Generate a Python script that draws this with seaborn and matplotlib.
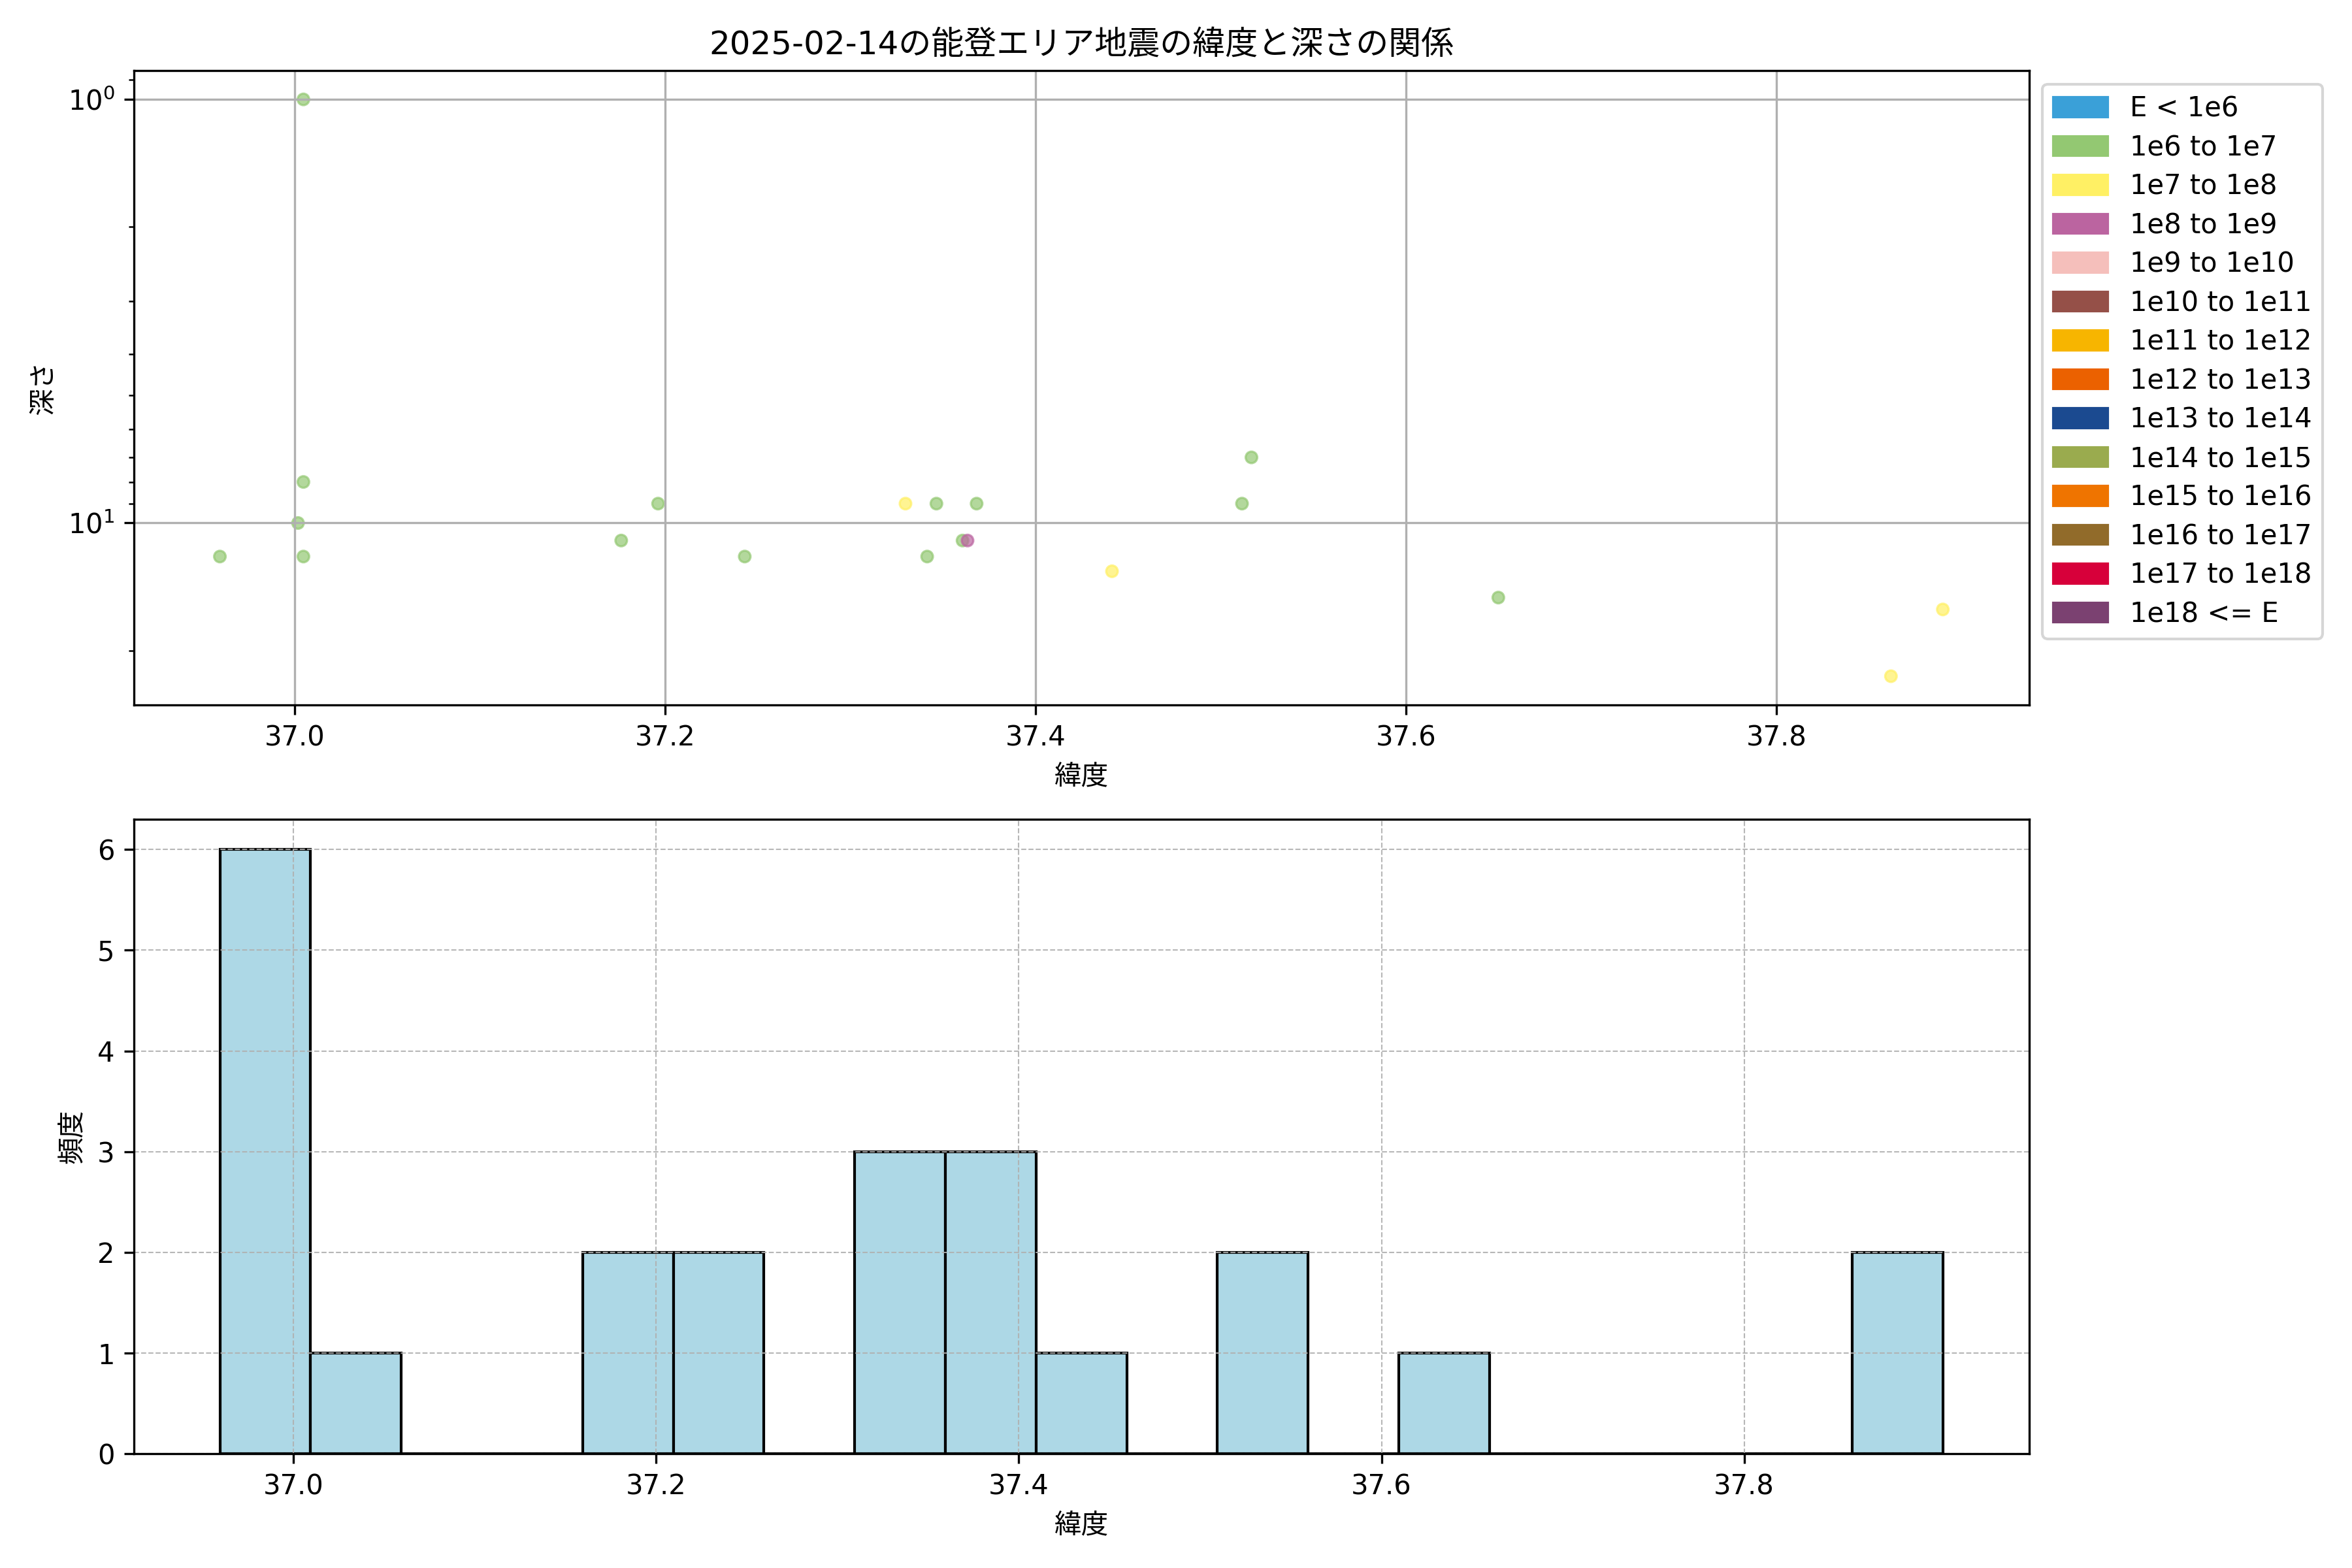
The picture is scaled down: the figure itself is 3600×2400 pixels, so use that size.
import numpy as np
import pandas as pd
import matplotlib
matplotlib.use("Agg")
import matplotlib.pyplot as plt
from matplotlib.patches import Patch
import seaborn as sns

plt.rcParams['font.family'] = ['DejaVu Sans', 'Noto Sans CJK JP']

#Energy classes and their colours (legend)
energy_labels = ["E < 1e6", "1e6 to 1e7", "1e7 to 1e8", "1e8 to 1e9", "1e9 to 1e10",
                 "1e10 to 1e11", "1e11 to 1e12", "1e12 to 1e13", "1e13 to 1e14",
                 "1e14 to 1e15", "1e15 to 1e16", "1e16 to 1e17", "1e17 to 1e18", "1e18 <= E"]
energy_colors = ["#3aa0d8", "#93c872", "#fff064", "#bb64a0", "#f5bfbb",
                 "#955048", "#f7b500", "#eb6100", "#1b4a90",
                 "#9aab4e", "#ef7400", "#916b2a", "#d7003a", "#7b4171"]

#Quakes of the day (depth NaN = no depth reported)
latitudes = [36.9595, 37.0046, 37.0046, 37.0017, 37.0046, 37.0030, 37.0300,
             37.1762, 37.1961, 37.2429, 37.2200,
             37.3297, 37.3464, 37.3681, 37.3414, 37.3605, 37.3632,
             37.4412, 37.5114, 37.5165, 37.6498, 37.8618, 37.8898]
depths = [12, 1, 8, 10, 12, np.nan, np.nan,
          11, 9, 12, np.nan,
          9, 9, 9, 12, 11, 11,
          13, 9, 7, 15, 23, 16]
energy = ["1e6 to 1e7", "1e6 to 1e7", "1e6 to 1e7", "1e6 to 1e7", "1e6 to 1e7", "1e6 to 1e7", "1e6 to 1e7",
          "1e6 to 1e7", "1e6 to 1e7", "1e6 to 1e7", "1e6 to 1e7",
          "1e7 to 1e8", "1e6 to 1e7", "1e6 to 1e7", "1e6 to 1e7", "1e6 to 1e7", "1e8 to 1e9",
          "1e7 to 1e8", "1e6 to 1e7", "1e6 to 1e7", "1e6 to 1e7", "1e7 to 1e8", "1e7 to 1e8"]

DFquake = pd.DataFrame({"latitude": latitudes, "depth": depths, "energy": energy})
palette = dict(zip(energy_labels, energy_colors))

fig, (ax1, ax2) = plt.subplots(2, 1, figsize=(12, 8), dpi=300)

#Latitude vs depth---------------------
sns.scatterplot(data=DFquake, x="latitude", y="depth", hue="energy", hue_order=energy_labels,
                palette=palette, s=18, alpha=0.7, edgecolor="face", linewidth=0.8,
                legend=False, ax=ax1)
ax1.set_yscale("log")
ax1.invert_yaxis()
ax1.grid(True)
ax1.set_title("2025-02-14の能登エリア地震の緯度と深さの関係", fontsize=12)
ax1.set_xlabel("緯度")
ax1.set_ylabel("深さ")
handles = [Patch(color=c, label=l) for l, c in zip(energy_labels, energy_colors)]
ax1.legend(handles=handles, bbox_to_anchor=(1, 1), loc="upper left", labelspacing=0.42)

#Histogram of latitude-----------------
lat = np.array(latitudes)
bin_edges = np.arange(lat.min(), lat.max() + 0.05, 0.05)
sns.histplot(x=lat, bins=bin_edges, color="lightblue", edgecolor="black",
             alpha=1, linewidth=1, ax=ax2)
ax2.grid(True, linestyle="--", linewidth=0.5, alpha=0.9)
ax2.set_xlabel("緯度")
ax2.set_ylabel("頻度")

fig.tight_layout()
fig.savefig("out.png", format="png")
plt.close(fig)
